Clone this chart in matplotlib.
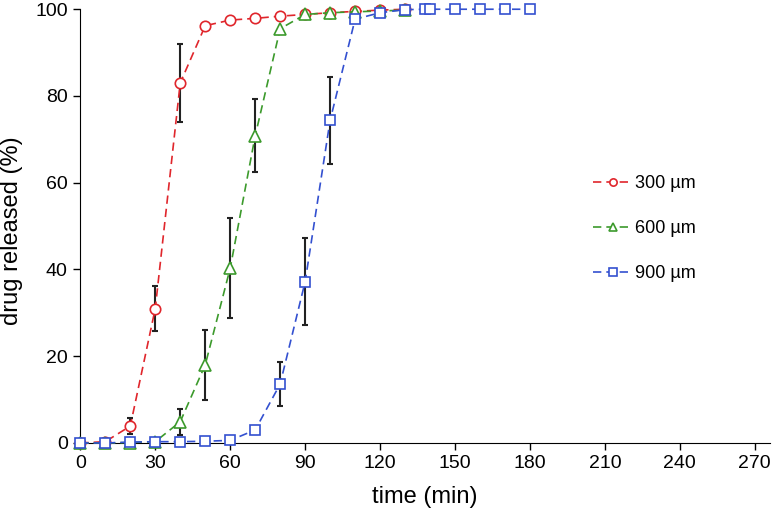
import matplotlib.pyplot as plt
import numpy as np

plt.rcParams['font.family'] = ['Liberation Sans', 'DejaVu Sans']

# release data (time in min, % released)
t_300 = [0, 10, 20, 30, 40, 50, 60, 70, 80, 90, 100, 110, 120, 130]
y_300 = [0, 0.3, 3.9, 31, 83, 96.2, 97.5, 97.9, 98.4, 98.8, 99.2, 99.5, 99.8, 100]
e_300 = [0, 0, 1.8, 5.2, 9, 0, 0, 0, 0, 0, 0, 0, 0, 0]

t_600 = [0, 10, 20, 30, 40, 50, 60, 70, 80, 90, 100, 110, 120, 130]
y_600 = [0, 0, 0.1, 0.3, 4.9, 18, 40.3, 70.8, 95.5, 98.8, 99.2, 99.4, 99.6, 99.8]
e_600 = [0, 0, 0, 0, 3, 8, 11.5, 8.4, 0, 0, 0, 0, 0, 0]

t_900 = [0, 10, 20, 30, 40, 50, 60, 70, 80, 90, 100, 110, 120, 130, 138, 140, 150, 160, 170, 180]
y_900 = [0, 0, 0.2, 0.3, 0.3, 0.4, 0.6, 3, 13.6, 37.2, 74.4, 97.7, 99.2, 99.9, 100, 100, 100, 100, 100, 100]
e_900 = [0, 0, 0, 0, 0, 0, 0, 1, 5, 10, 10, 0, 0, 0, 0, 0, 0, 0, 0, 0]

series = [
    (t_300, y_300, e_300, '300 µm', '#e0262c', 'o', 10),
    (t_600, y_600, e_600, '600 µm', '#3c9a2c', '^', 11),
    (t_900, y_900, e_900, '900 µm', '#3350d0', 's', 10),
]

fig = plt.figure(figsize=(7.76, 5.13), dpi=100)
ax = fig.add_axes([0.1035, 0.1365, 0.8885, 0.8455])

for t, y, e, lab, col, mk, ms in series:
    t = np.array(t)
    y = np.array(y)
    e = np.array(e)
    m = e > 0
    ax.errorbar(t[m], y[m], yerr=e[m], fmt='none', ecolor='#222222',
                elinewidth=1.5, capsize=2.5, capthick=1.5, zorder=2, clip_on=False)
    ax.plot(t, y, ls=(0, (5, 3)), lw=1.2, color=col, marker=mk,
            markersize=ms * 0.75, markerfacecolor='white', markeredgecolor=col,
            markeredgewidth=1.2, label=lab, zorder=3, clip_on=False)

ax.set_xlim(0, 276)
ax.set_ylim(0, 100)
ax.set_xticks(np.arange(0, 271, 30))
ax.set_yticks(np.arange(0, 101, 20))
ax.tick_params(direction='out', length=5, width=1, labelsize=14, pad=4)
for s in ['top', 'right']:
    ax.spines[s].set_visible(False)

ax.set_xlabel('time (min)', fontsize=17)
ax.set_ylabel('drug released (%)', fontsize=17)
ax.xaxis.set_label_coords(0.5, -0.1)
ax.yaxis.set_label_coords(-0.083, 0.49)

ax.legend(loc='upper left', bbox_to_anchor=(0.72, 0.655), frameon=False,
          fontsize=13, handlelength=2.2, handletextpad=0.15, labelspacing=1.55,
          markerscale=0.7)

fig.savefig('out.png', dpi=100)
